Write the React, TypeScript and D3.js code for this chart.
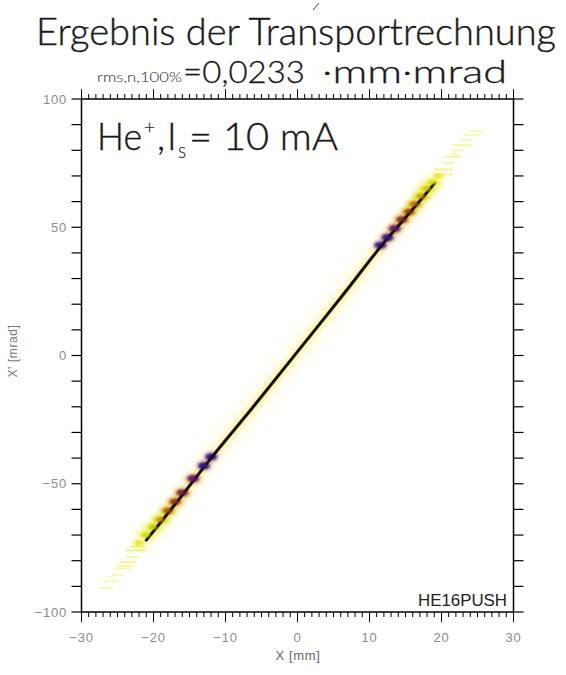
import React from "react";
import * as d3 from "d3";

const W = 566;
const H = 675;

// axis ticks
const xTickValues = [-30, -20, -10, 0, 10, 20, 30];
const yTickValues = [-100, -50, 0, 50, 100];

// beam centre line in phase space (x [mm], x' [mrad])
const coreX = [-21, -17, -12, -6, 0, 6, 12, 16, 19];
const coreY = [-72, -58, -40, -19.5, 1.5, 22.5, 44, 57, 67];

// density cells near both beam ends (level 0 = sparse, 1 = dense)
const endX = [11.5, 12.5, 13.5, 14.5, 15.5, 16.3, 17.2, 18, 18.8, 19.5,
  -12, -13, -14.5, -16, -17, -18, -19, -20, -21, -22];
const endY = [43, 46, 49.5, 53, 56, 59, 62, 65, 67.5, 70,
  -39.5, -43, -48, -53.5, -57, -60.5, -64, -67, -70, -73];
const endLevel = [0.92, 0.86, 0.76, 0.66, 0.6, 0.52, 0.44, 0.36, 0.3, 0.2,
  0.92, 0.86, 0.76, 0.7, 0.62, 0.55, 0.45, 0.36, 0.3, 0.2];

// sparse outer particles (horizontal streaks), length in mm
const tailX = [20.3, 21, 21.6, 22.2, 22.8, 23.4, 24.2, 24.8, 21.8, 20.8,
  -22.5, -23, -23.6, -24.3, -25, -25.8, -26.5, -24, -22.2, -26];
const tailY = [72.5, 75, 77.5, 80, 82, 84, 86, 87.5, 78.5, 70.5,
  -76, -78.5, -80.5, -83, -85.5, -88, -90.5, -82, -74.5, -86.5];
const tailLen = [2.5, 1.6, 2.5, 1.8, 2.8, 1.5, 2.2, 2, 1.2, 1.5,
  2.8, 1.8, 2.5, 2.2, 1.6, 2.2, 1.8, 2.4, 2, 1.2];
const tailLevel = [0.14, 0.1, 0.12, 0.08, 0.1, 0.07, 0.08, 0.06, 0.07, 0.1,
  0.16, 0.12, 0.12, 0.09, 0.08, 0.08, 0.07, 0.1, 0.16, 0.05];

const titleText = "Ergebnis der Transportrechnung";
const emitSub = "rms,n,100%";
const emitValue = "=0,0233";
const emitUnit = "\u00b7mm\u00b7mrad";
const runName = "HE16PUSH";

export default function App() {
  const x = d3.scaleLinear().domain([-30, 30]).range([81.5, 513.5]);
  const y = d3.scaleLinear().domain([-100, 100]).range([612, 99]);

  const density = d3
    .scaleLinear<string>()
    .domain([0, 0.15, 0.3, 0.45, 0.6, 0.72, 0.85, 1])
    .range(["#fffbd8", "#f2ea40", "#c4e400", "#d88818", "#8e3418", "#6a2080", "#2a18a0", "#1a0c0c"])
    .clamp(true);

  const pts: [number, number][] = coreX.map((v, i) => [x(v), y(coreY[i])]);
  const line = d3.line().curve(d3.curveCatmullRom)(pts) || "";

  const minorX = d3.range(-30, 31, 1);
  const minorY = d3.range(-100, 101, 10);
  const [x0, x1] = x.range();
  const yb = y(-100);
  const yt = y(100);

  const tickFont = "'Liberation Sans', sans-serif";
  const grey = "#8c8c8c";
  const textFont = "Lato, 'Open Sans', sans-serif";

  return (
    <svg
      width={W}
      height={H}
      viewBox={`0 0 ${W} ${H}`}
      style={{ position: "absolute", left: 0, top: 0, background: "#fff" }}
    >
      <defs>
        <filter id="soft" x="-50%" y="-50%" width="200%" height="200%">
          <feGaussianBlur stdDeviation="2" />
        </filter>
        <filter id="mid" x="-50%" y="-50%" width="200%" height="200%">
          <feGaussianBlur stdDeviation="1.2" />
        </filter>
        <filter id="haze" x="-20%" y="-20%" width="140%" height="140%">
          <feGaussianBlur stdDeviation="5" />
        </filter>
        <filter id="thin" x="-50%" y="-50%" width="200%" height="200%">
          <feGaussianBlur stdDeviation="0.7" />
        </filter>
      </defs>
      <rect width={W} height={H} fill="#fff" />

      {/* small stroke above the title */}
      <line x1={313} y1={10} x2={319} y2={3} stroke="#444" strokeWidth={1} />

      {/* title */}
      <text
        x={36}
        y={45}
        fontFamily={textFont}
        fontWeight={300}
        fontSize={37}
        fill="#1a1a1a"
        stroke="#1a1a1a"
        strokeWidth={0.4}
        textLength={520}
        lengthAdjust="spacingAndGlyphs"
      >
        {titleText}
      </text>
      <text x={97} y={82} fontFamily={textFont} fontWeight={300} fontSize={13} fill="#222" textLength={85} lengthAdjust="spacingAndGlyphs">
        {emitSub}
      </text>
      <text x={183} y={83} fontFamily={textFont} fontWeight={300} fontSize={31} fill="#1a1a1a" stroke="#1a1a1a" strokeWidth={0.3} textLength={122} lengthAdjust="spacingAndGlyphs">
        {emitValue}
      </text>
      <text x={322} y={83} fontFamily={textFont} fontWeight={300} fontSize={31} fill="#1a1a1a" stroke="#1a1a1a" strokeWidth={0.3} textLength={185} lengthAdjust="spacingAndGlyphs">
        {emitUnit}
      </text>

      {/* beam */}
      <g>
        <path d={line} fill="none" stroke="#fff6c0" strokeWidth={26} strokeOpacity={0.3} strokeLinecap="round" filter="url(#haze)" />
        <path d={line} fill="none" stroke={density(0.1)} strokeWidth={8} strokeOpacity={0.65} strokeLinecap="round" filter="url(#soft)" />
        {endX.map((v, i) => (
          <ellipse
            key={"e" + i}
            cx={x(v)}
            cy={y(endY[i])}
            rx={6 + (1 - endLevel[i]) * 6}
            ry={3.5 + (1 - endLevel[i]) * 2.5}
            fill={density(endLevel[i] - 0.2)}
            opacity={0.8}
            filter="url(#soft)"
          />
        ))}
        {endX.map((v, i) => (
          <ellipse
            key={"c" + i}
            cx={x(v)}
            cy={y(endY[i])}
            rx={5.5}
            ry={3}
            fill={density(endLevel[i] - 0.08)}
            filter="url(#mid)"
          />
        ))}
        <path d={line} fill="none" stroke={density(1)} strokeWidth={3} strokeLinecap="round" filter="url(#thin)" />
        {endX.map((v, i) =>
          endLevel[i] < 0.9 ? (
            <ellipse
              key={"o" + i}
              cx={x(v)}
              cy={y(endY[i])}
              rx={3.6}
              ry={2.2}
              fill={density(endLevel[i])}
              opacity={0.85}
              filter="url(#mid)"
            />
          ) : null
        )}
        {tailX.map((v, i) => (
          <rect
            key={"t" + i}
            x={x(v - tailLen[i] / 2)}
            y={y(tailY[i]) - 1}
            width={x(tailLen[i]) - x(0)}
            height={2}
            fill={density(tailLevel[i])}
            opacity={0.65}
            filter="url(#thin)"
          />
        ))}
      </g>

      {/* frame */}
      <g stroke="#000" strokeWidth={1.5} fill="none">
        <rect x={x0} y={yt} width={x1 - x0} height={yb - yt} />
        {minorX.map((v) => {
          const major = v % 10 === 0;
          const len = major ? 10 : 5;
          return (
            <g key={"xt" + v}>
              <line x1={x(v)} x2={x(v)} y1={yb} y2={yb + len} strokeWidth={1} />
              <line x1={x(v)} x2={x(v)} y1={yt} y2={yt - len} strokeWidth={1} />
            </g>
          );
        })}
        {minorY.map((v) => (
          <g key={"yt" + v}>
            <line x1={x0} x2={x0 - 10} y1={y(v)} y2={y(v)} strokeWidth={1.2} />
            <line x1={x1} x2={x1 + 10} y1={y(v)} y2={y(v)} strokeWidth={1.2} />
          </g>
        ))}
      </g>

      {/* tick labels */}
      <g fontFamily={tickFont} fontSize={13} fill={grey}>
        {xTickValues.map((v) => (
          <text key={"xl" + v} x={x(v)} y={642} textAnchor="middle" letterSpacing={0.8}>
            {v < 0 ? "\u2212" + Math.abs(v) : String(v)}
          </text>
        ))}
        {yTickValues.map((v) => (
          <text key={"yl" + v} x={67} y={y(v) + 4.5} textAnchor="end" letterSpacing={0.8}>
            {v < 0 ? "\u2212" + Math.abs(v) : String(v)}
          </text>
        ))}
      </g>

      {/* axis titles */}
      <text x={298} y={660} textAnchor="middle" fontFamily={tickFont} fontSize={13} fill="#666" letterSpacing={0.6}>
        X [mm]
      </text>
      <text
        transform={`translate(17,351) rotate(-90)`}
        textAnchor="middle"
        fontFamily={tickFont}
        fontSize={12}
        fill="#777"
        letterSpacing={0.6}
      >
        X' [mrad]
      </text>

      {/* in-plot annotation: ion species and source current */}
      <g fontFamily={textFont} fontWeight={300} fill="#1a1a1a" stroke="#1a1a1a" strokeWidth={0.4}>
        <text y={150} fontSize={37}>
          <tspan x={97} textLength={45} lengthAdjust="spacingAndGlyphs">He</tspan>
          <tspan x={144} dy={-16} fontSize={19} strokeWidth={0.2}>+</tspan>
          <tspan x={157} dy={16}>,</tspan>
          <tspan x={167}>I</tspan>
          <tspan x={178} dy={8} fontSize={15} strokeWidth={0.2}>S</tspan>
        </text>
        <text x={189} y={150} fontSize={37} textLength={149} lengthAdjust="spacingAndGlyphs">= 10 mA</text>
      </g>

      <text x={418} y={606} fontFamily={tickFont} fontSize={16} fill="#222" textLength={89} lengthAdjust="spacingAndGlyphs">
        {runName}
      </text>
    </svg>
  );
}
